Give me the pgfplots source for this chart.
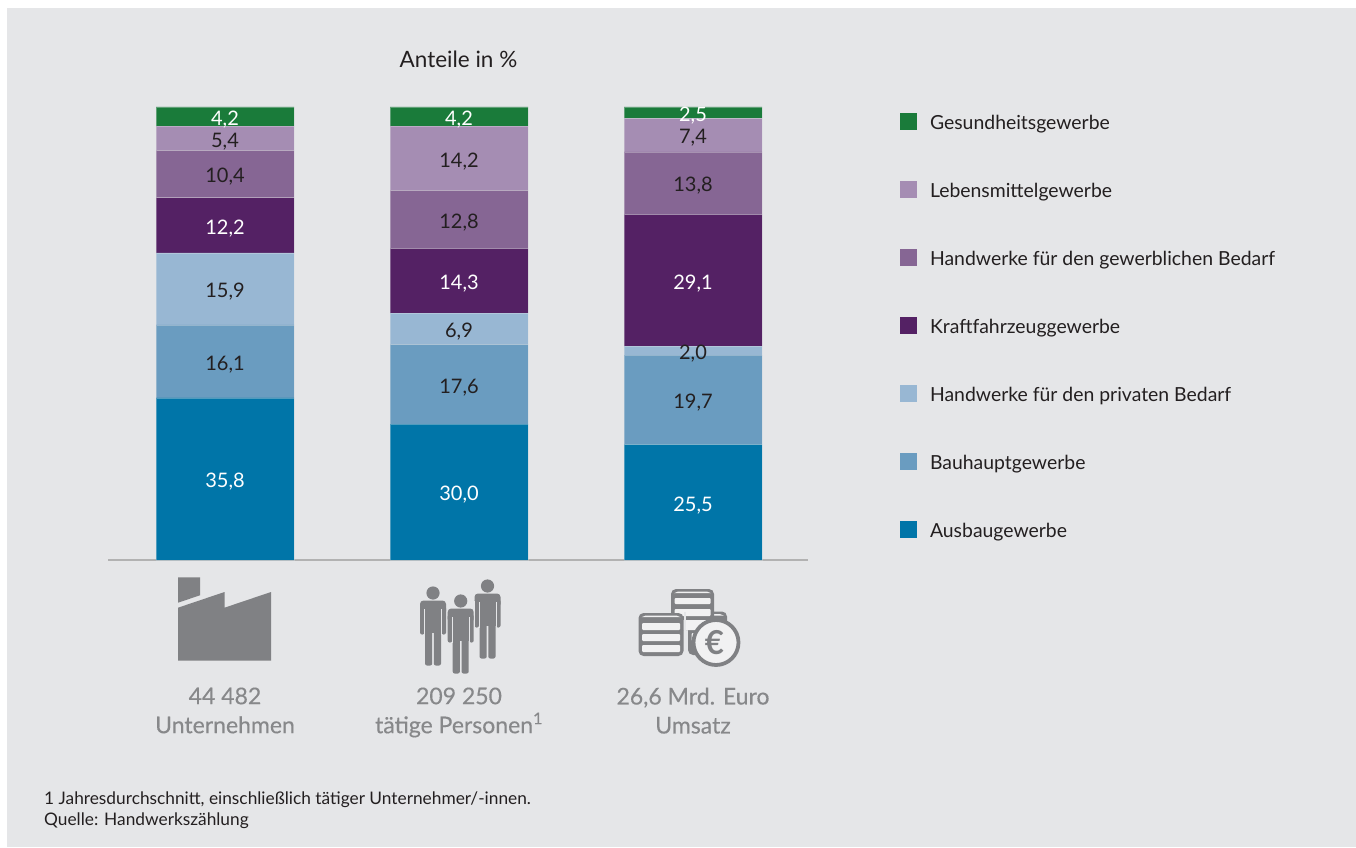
\documentclass[border=0pt]{standalone}
\usepackage{pgfplots}
\pgfplotsset{compat=1.18}
\usepackage{fontspec}
\setmainfont{Lato}
\newfontfamily\medfont[FakeBold=0.3]{Lato}
\definecolor{panel}{HTML}{E5E6E8}
\definecolor{coinw}{HTML}{F1F1F2}
\definecolor{cGes}{HTML}{1A7B3A}
\definecolor{cLeb}{HTML}{A58DB3}
\definecolor{cGew}{HTML}{866694}
\definecolor{cKfz}{HTML}{542164}
\definecolor{cPri}{HTML}{98B7D3}
\definecolor{cBau}{HTML}{6A9CC0}
\definecolor{cAus}{HTML}{0075A8}
\definecolor{icon}{HTML}{808184}
\definecolor{txtgray}{HTML}{87888A}
\definecolor{txt}{HTML}{231F20}
\newcommand{\person}[2]{%
  \begin{scope}[shift={(#1,#2)}]
    \fill[icon,rounded corners=3.5] (-13,0) rectangle (13,14);
    \fill[icon,rounded corners=2] (-13,6) rectangle (-8.5,34);
    \fill[icon,rounded corners=2] (8.5,6) rectangle (13,34);
    \fill[icon] (-8,3) rectangle (8,32);
    \fill[icon,rounded corners=2] (-8,25) rectangle (-0.8,65);
    \fill[icon,rounded corners=2] (0.8,25) rectangle (8,65);
    \fill[panel] (-8.7,8) rectangle (-8,34);
    \fill[panel] (8,8) rectangle (8.7,34);
    \fill[icon] (0,-7.5) circle (6.6);
  \end{scope}}
\newcommand{\coinstack}[5]{%
  \fill[icon,rounded corners=5] (#1,#3) rectangle (#2,#4);
  \fill[coinw] (#1+7,#3+2.6) -- (#2-7,#3+2.6) -- (#2-3,#3+4.2) -- (#1+3,#3+4.2) -- cycle;
  \foreach \t/\b in {#5} {\fill[coinw,rounded corners=1] (#1+3.5,\t) rectangle (#2-3.5,\b);}}
\begin{document}
\begin{tikzpicture}
\useasboundingbox (0,0) rectangle (1356pt,847pt);
\fill[white] (0,0) rectangle (1356pt,847pt);
\fill[panel] (7pt,0) rectangle (1356pt,839pt);
\begin{axis}[
  at={(108pt,287pt)}, anchor=south west,
  scale only axis, width=700pt, height=453pt,
  ybar stacked, bar width=138pt,
  xmin=-0.5, xmax=2.4915, ymin=0, ymax=100,
  axis y line=none, axis x line*=bottom,
  axis line style={draw=black!30,line width=2pt,-},
  xtick={0,1,2},
  xticklabels={{44 482\\Unternehmen},{209 250\\tätige Personen\textsuperscript{1}},{26,6 Mrd. Euro\\Umsatz}},
  x tick label style={align=center,font=\medfont\fontsize{23}{29}\selectfont,text=txtgray,yshift=-124pt,anchor=north},
  major tick length=0pt,
  clip=false,
  title={\fontsize{22.5}{26}\selectfont Anteile in \%},
  title style={at={(axis cs:0.998,100)},anchor=base,yshift=33pt,text=txt},
  nodes near coords,
  /pgf/number format/.cd,fixed,fixed zerofill,precision=1,use comma,assume math mode=true,
  /pgfplots/.cd,
  nodes near coords style={font=\fontsize{20}{24}\selectfont,anchor=center,yshift=-3pt},
  reverse legend,
  legend cell align=left,
  legend columns=1,
  legend style={at={(792pt,447pt)},anchor=north west,draw=none,fill=none,inner sep=0pt,outer sep=0pt,
    font=\fontsize{19.4}{23}\selectfont,text=txt,row sep=45.5pt,
    nodes={text height=14pt,text depth=6pt,inner sep=0pt,inner xsep=0pt}},
  legend image code/.code={\fill[#1,draw=none] (0pt,-4.5pt) rectangle (17pt,12.5pt);},
  legend plot pos=left,
]
\addplot[fill=cAus,draw=panel,draw opacity=0.35,line width=0.6pt,nodes near coords style={text=white}] coordinates {(0,35.8) (1,30.0) (2,25.5)};
\addlegendentry{\hspace{13pt}Ausbaugewerbe}
\addplot[fill=cBau,draw=panel,draw opacity=0.35,line width=0.6pt,nodes near coords style={text=txt}] coordinates {(0,16.1) (1,17.6) (2,19.7)};
\addlegendentry{\hspace{13pt}Bauhauptgewerbe}
\addplot[fill=cPri,draw=panel,draw opacity=0.35,line width=0.6pt,nodes near coords style={text=txt}] coordinates {(0,15.9) (1,6.9) (2,2.0)};
\addlegendentry{\hspace{13pt}Handwerke für den privaten Bedarf}
\addplot[fill=cKfz,draw=panel,draw opacity=0.35,line width=0.6pt,nodes near coords style={text=white}] coordinates {(0,12.2) (1,14.3) (2,29.1)};
\addlegendentry{\hspace{13pt}Kraftfahrzeuggewerbe}
\addplot[fill=cGew,draw=panel,draw opacity=0.35,line width=0.6pt,nodes near coords style={text=txt}] coordinates {(0,10.4) (1,12.8) (2,13.8)};
\addlegendentry{\hspace{13pt}Handwerke für den gewerblichen Bedarf}
\addplot[fill=cLeb,draw=panel,draw opacity=0.35,line width=0.6pt,nodes near coords style={text=txt}] coordinates {(0,5.4) (1,14.2) (2,7.4)};
\addlegendentry{\hspace{13pt}Lebensmittelgewerbe}
\addplot[fill=cGes,draw=panel,draw opacity=0.35,line width=0.6pt,nodes near coords style={text=white}] coordinates {(0,4.2) (1,4.2) (2,2.5)};
\addlegendentry{\hspace{13pt}Gesundheitsgewerbe}
\end{axis}
\begin{scope}[x=1pt,y=-1pt,yshift=847pt]
  % factory
  \fill[icon] (178,577.3) -- (200,577.3) -- (200,595.3) -- (178,602.7) -- cycle;
  \fill[icon] (178,607.7) -- (224.5,592) -- (224.5,607.7) -- (271,592) -- (271,660.5) -- (178,660.5) -- cycle;
  % people
  \person{433}{600.5}
  \person{487.5}{593.5}
  \fill[panel] (446.5,601) rectangle (447.8,645);
  \fill[panel] (473.7,601) rectangle (474.9,645);
  \person{460.7}{608.5}
  % coins
  \coinstack{688}{727}{611.5}{655}{622/629,633/641}
  \coinstack{671}{714}{589}{630}{598/604,609/616,620/630}
  \fill[panel] (684,612) rectangle (686,657);
  \coinstack{638.5}{683.5}{613}{656}{623/630,634/641,645/652}
  \filldraw[icon,fill=coinw,line width=3.8pt] (716,642.5) circle (22.5);
  \node[text=icon,font=\bfseries\fontsize{33}{33}\selectfont,inner sep=0pt] at (714.5,642.5) {€};
  % footnote
  \node[anchor=base west,text=txt,font=\fontsize{17.3}{20}\selectfont,inner sep=0pt] at (44,804) {1 Jahresdurchschnitt, einschließlich tätiger Unternehmer/-innen.};
  \node[anchor=base west,text=txt,font=\fontsize{17.3}{20}\selectfont,inner sep=0pt] at (44,825) {Quelle: Handwerkszählung};
\end{scope}
\end{tikzpicture}
\end{document}
